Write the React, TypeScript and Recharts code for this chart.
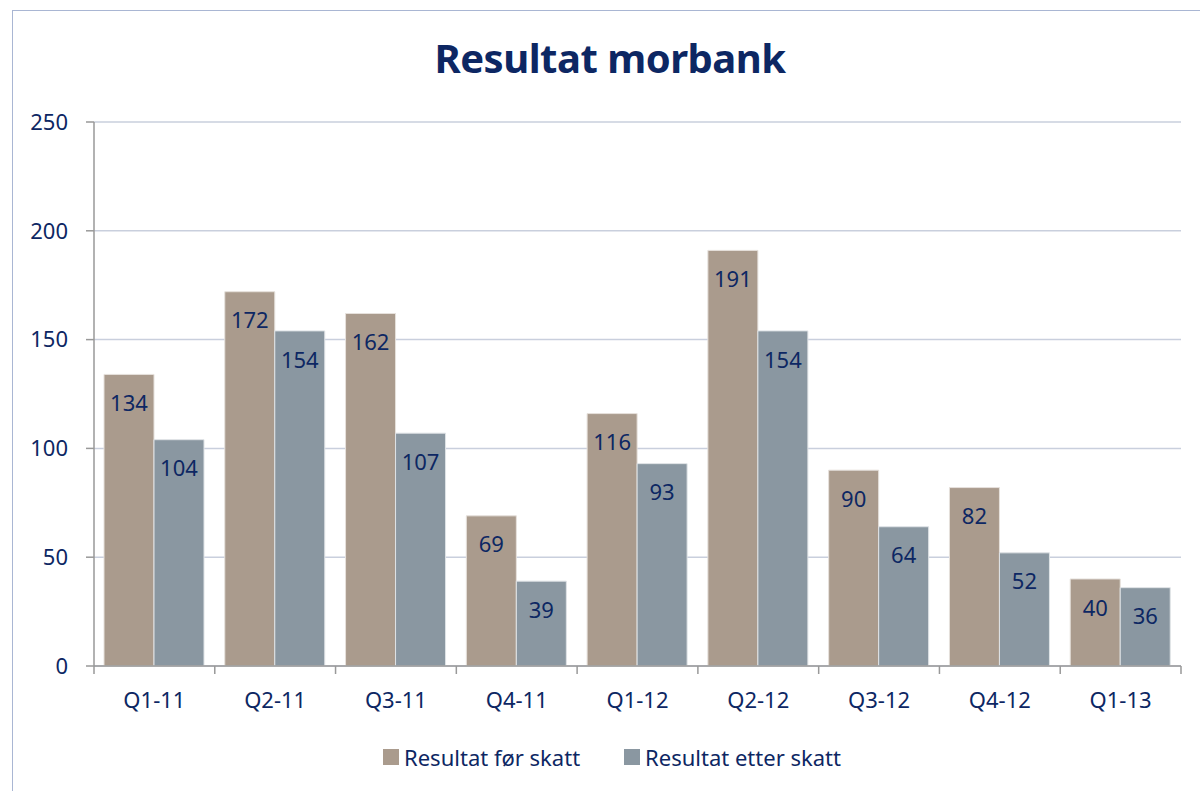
import React from 'react';
import { BarChart, Bar, XAxis, YAxis, CartesianGrid, LabelList } from 'recharts';

const quarters = ['Q1-11', 'Q2-11', 'Q3-11', 'Q4-11', 'Q1-12', 'Q2-12', 'Q3-12', 'Q4-12', 'Q1-13'];
const resultatForSkatt = [134, 172, 162, 69, 116, 191, 90, 82, 40];
const resultatEtterSkatt = [104, 154, 107, 39, 93, 154, 64, 52, 36];
const yTicks = [0, 50, 100, 150, 200, 250];

const data = quarters.map((q, i) => ({
    name: q,
    forSkatt: resultatForSkatt[i],
    etterSkatt: resultatEtterSkatt[i],
}));

const WIDTH = 1200;
const HEIGHT = 791;
const MARGIN = { top: 122, right: 19, left: 0, bottom: 65 };
const Y_AXIS_WIDTH = 94;
const NAVY = '#0d2763';
const FONT = '"Noto Sans", "Open Sans", sans-serif';
const BROWN = '#aa9b8d';
const SLATE = '#8a97a1';

const bandWidth = (WIDTH - MARGIN.left - MARGIN.right - Y_AXIS_WIDTH) / quarters.length;

const CategoryTick = ({ x, y, payload, index }: any) => {
    const isLast = index === quarters.length - 1;
    return (
        <g>
            <line x1={x - bandWidth / 2} y1={y} x2={x - bandWidth / 2} y2={y + 8} stroke="#999" strokeWidth={1.5} />
            {isLast && <line x1={x + bandWidth / 2} y1={y} x2={x + bandWidth / 2} y2={y + 8} stroke="#999" strokeWidth={1.5} />}
            <text x={x} y={y + 42} textAnchor="middle" fill={NAVY} fontSize={22} fontFamily={FONT}>
                {payload.value}
            </text>
        </g>
    );
};

const LegendRow = () => (
    <div style={{ position: 'absolute', top: 742, left: 0, width: WIDTH, display: 'flex', justifyContent: 'center', paddingLeft: 24, boxSizing: 'border-box', fontFamily: FONT, fontSize: 22, color: NAVY }}>
        {[
            { label: 'Resultat før skatt', color: BROWN },
            { label: 'Resultat etter skatt', color: SLATE },
        ].map((item, i) => (
            <div key={item.label} style={{ display: 'flex', alignItems: 'center', marginLeft: i ? 44 : 0 }}>
                <span style={{ width: 16, height: 16, background: item.color, display: 'inline-block', marginRight: 5 }} />
                <span>{item.label}</span>
            </div>
        ))}
    </div>
);

export default function App() {
    return (
        <div style={{ position: 'absolute', top: 0, left: 0, width: WIDTH, height: HEIGHT, background: '#fff', overflow: 'hidden' }}>
            <div style={{ position: 'absolute', top: 10, left: 12, width: WIDTH, height: HEIGHT, border: '1.5px solid #a9b6d3', boxSizing: 'border-box' }} />
            <div style={{ position: 'absolute', top: 30, left: 0, width: WIDTH, paddingLeft: 20, boxSizing: 'border-box', textAlign: 'center', fontFamily: FONT, fontWeight: 700, fontSize: 40, color: NAVY, letterSpacing: -0.5 }}>
                Resultat morbank
            </div>
            <div style={{ position: 'absolute', top: 0, left: 0 }}>
                <BarChart width={WIDTH} height={HEIGHT} data={data} margin={MARGIN} barCategoryGap={10} barGap={0}>
                    <CartesianGrid vertical={false} stroke="#c9cfdd" strokeWidth={1.5} />
                    <XAxis
                        dataKey="name"
                        height={60}
                        axisLine={{ stroke: '#999', strokeWidth: 1.5 }}
                        tickLine={false}
                        tickSize={0}
                        tickMargin={0}
                        tick={<CategoryTick />}
                        interval={0}
                    />
                    <YAxis
                        width={Y_AXIS_WIDTH}
                        domain={[0, 250]}
                        ticks={yTicks}
                        axisLine={{ stroke: '#999', strokeWidth: 1.5 }}
                        tickLine={{ stroke: '#999', strokeWidth: 1.5 }}
                        tickSize={8}
                        tickMargin={18}
                        tick={{ fill: NAVY, fontSize: 22, fontFamily: FONT }}
                    />
                    <Bar dataKey="forSkatt" name="Resultat før skatt" fill={BROWN} stroke="#e6e1dc" strokeWidth={1} isAnimationActive={false}>
                        <LabelList dataKey="forSkatt" position="insideTop" offset={21} fill={NAVY} fontSize={22} fontFamily={FONT} />
                    </Bar>
                    <Bar dataKey="etterSkatt" name="Resultat etter skatt" fill={SLATE} stroke="#dfe3e6" strokeWidth={1} isAnimationActive={false}>
                        <LabelList dataKey="etterSkatt" position="insideTop" offset={21} fill={NAVY} fontSize={22} fontFamily={FONT} />
                    </Bar>
                </BarChart>
            </div>
            <LegendRow />
        </div>
    );
}
